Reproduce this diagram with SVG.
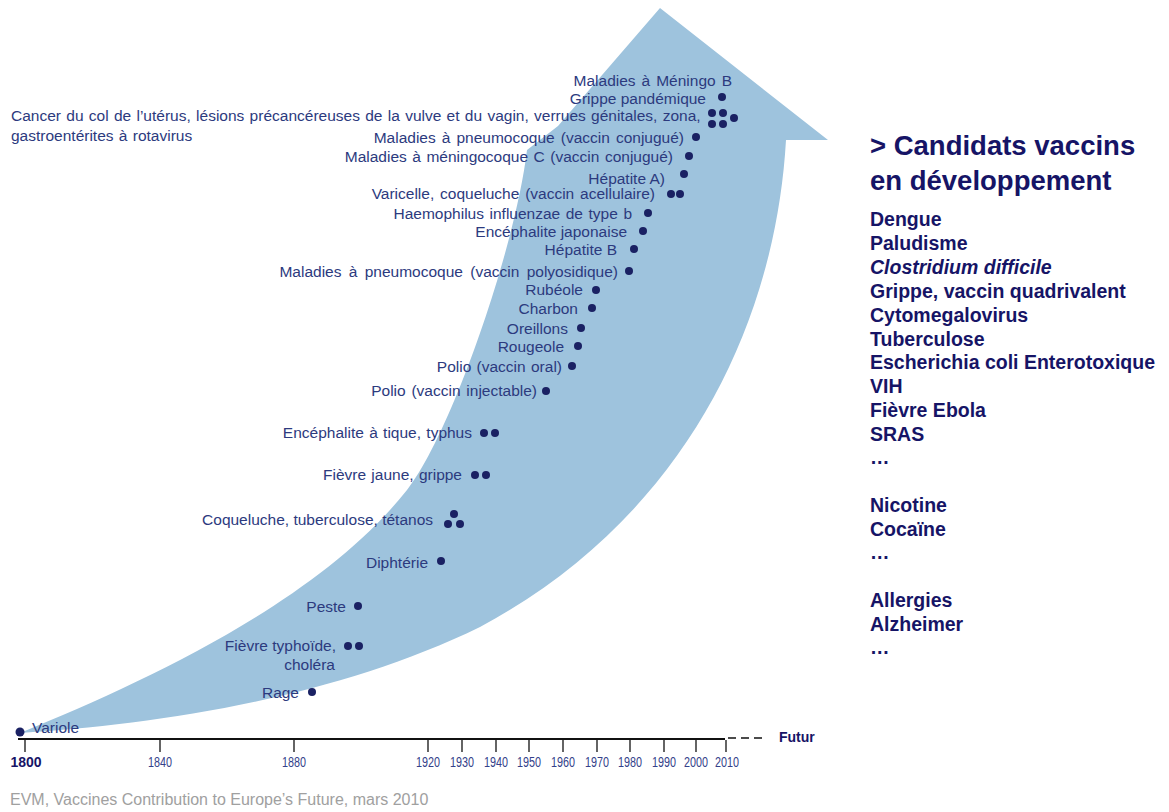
<svg xmlns="http://www.w3.org/2000/svg" width="1169" height="812" viewBox="0 0 1169 812">
  <style>
    .lbl { font-family: "Liberation Sans", Arial, sans-serif; font-size: 15.5px; fill: #2c3a7e; }
    .end { text-anchor: end; }
    .dot { fill: #1a2163; }
    .side { font-family: "Liberation Sans", Arial, sans-serif; font-weight: bold; fill: #161466; }
    .head { font-size: 27.5px; }
    .item { font-size: 19.5px; }
    .yr { font-family: "Liberation Sans Narrow", "Liberation Sans", Arial, sans-serif; font-size: 14px; fill: #34418a; text-anchor: middle; }
    .tick { stroke: #111; stroke-width: 1.3; }
  </style>

  <rect width="1169" height="812" fill="#ffffff"/>

  <!-- big curved arrow rising from 1800 to today -->
  <path id="arrow" fill="#9ec3dd"
        d="M 660 8 L 828 140 L 786 140
           C 775 330 680 520 480 627
           C 330 700 150 725 20 733
           C 150 680 320 600 407 490
           C 450 436 515 250 527 150
           L 558 126 Z"/>

  <!-- time axis -->
  <g id="axis">
    <line x1="18" y1="739" x2="725" y2="739" stroke="#111" stroke-width="2"/>
    <line x1="728" y1="738" x2="765" y2="738" stroke="#111" stroke-width="1.6" stroke-dasharray="8,5"/>
    <line class="tick" x1="25" y1="740" x2="25" y2="752"/>
    <line class="tick" x1="160" y1="740" x2="160" y2="752"/>
    <line class="tick" x1="294" y1="740" x2="294" y2="752"/>
    <line class="tick" x1="428" y1="740" x2="428" y2="752"/>
    <line class="tick" x1="462" y1="740" x2="462" y2="752"/>
    <line class="tick" x1="496" y1="740" x2="496" y2="752"/>
    <line class="tick" x1="529" y1="740" x2="529" y2="752"/>
    <line class="tick" x1="563" y1="740" x2="563" y2="752"/>
    <line class="tick" x1="597" y1="740" x2="597" y2="752"/>
    <line class="tick" x1="630" y1="740" x2="630" y2="752"/>
    <line class="tick" x1="664" y1="740" x2="664" y2="752"/>
    <line class="tick" x1="696" y1="740" x2="696" y2="752"/>
    <line class="tick" x1="726" y1="740" x2="726" y2="752"/>
    <text x="26" y="767" font-family="Liberation Sans, Arial, sans-serif" font-size="14" font-weight="bold" fill="#161466" text-anchor="middle">1800</text>
    <text class="yr" x="160" y="767" textLength="24" lengthAdjust="spacingAndGlyphs">1840</text>
    <text class="yr" x="294" y="767" textLength="24" lengthAdjust="spacingAndGlyphs">1880</text>
    <text class="yr" x="428" y="767" textLength="24" lengthAdjust="spacingAndGlyphs">1920</text>
    <text class="yr" x="462" y="767" textLength="24" lengthAdjust="spacingAndGlyphs">1930</text>
    <text class="yr" x="496" y="767" textLength="24" lengthAdjust="spacingAndGlyphs">1940</text>
    <text class="yr" x="529" y="767" textLength="24" lengthAdjust="spacingAndGlyphs">1950</text>
    <text class="yr" x="563" y="767" textLength="24" lengthAdjust="spacingAndGlyphs">1960</text>
    <text class="yr" x="597" y="767" textLength="24" lengthAdjust="spacingAndGlyphs">1970</text>
    <text class="yr" x="630" y="767" textLength="24" lengthAdjust="spacingAndGlyphs">1980</text>
    <text class="yr" x="664" y="767" textLength="24" lengthAdjust="spacingAndGlyphs">1990</text>
    <text class="yr" x="696" y="767" textLength="24" lengthAdjust="spacingAndGlyphs">2000</text>
    <text class="yr" x="727" y="767" textLength="24" lengthAdjust="spacingAndGlyphs">2010</text>
    <text x="779" y="742" font-family="Liberation Sans, Arial, sans-serif" font-size="14" font-weight="bold" fill="#161466">Futur</text>
  </g>

  <!-- no connectors: events are placed along the arrow -->
  <g id="connectors"/>

  <!-- vaccine milestones -->
  <g id="e-menb"><text class="lbl end" x="732" y="85.5" word-spacing="1.7">Maladies à Méningo B</text></g>
  <g id="e-grippe-pand"><text class="lbl end" x="706" y="103.5">Grippe pandémique</text><circle class="dot" cx="722" cy="97" r="4"/></g>
  <g id="e-hpv">
    <text class="lbl" x="11" y="120.5" word-spacing="1">Cancer du col de l’utérus, lésions précancéreuses de la vulve et du vagin, verrues génitales, zona,</text>
    <text class="lbl" x="11" y="140.5" word-spacing="1">gastroentérites à rotavirus</text>
    <circle class="dot" cx="712" cy="113" r="4"/><circle class="dot" cx="723" cy="113" r="4"/>
    <circle class="dot" cx="734" cy="118" r="4"/>
    <circle class="dot" cx="712" cy="124" r="4"/><circle class="dot" cx="723" cy="124" r="4"/>
  </g>
  <g id="e-pneumo-conj"><text class="lbl end" x="684" y="142.5" word-spacing="1.75">Maladies à pneumocoque (vaccin conjugué)</text><circle class="dot" cx="696" cy="137" r="4"/></g>
  <g id="e-menc"><text class="lbl end" x="673" y="161.5" word-spacing="1.2">Maladies à méningocoque C (vaccin conjugué)</text><circle class="dot" cx="689" cy="156" r="4"/></g>
  <g id="e-hepa"><text class="lbl end" x="665" y="183.5">Hépatite A)</text><circle class="dot" cx="684" cy="174" r="4"/></g>
  <g id="e-varicelle"><text class="lbl end" x="655" y="199" word-spacing="1.5">Varicelle, coqueluche (vaccin acellulaire)</text><circle class="dot" cx="671" cy="194" r="4"/><circle class="dot" cx="680" cy="194" r="4"/></g>
  <g id="e-hib"><text class="lbl end" x="632" y="218.5" word-spacing="1.25">Haemophilus influenzae de type b</text><circle class="dot" cx="648" cy="213" r="4"/></g>
  <g id="e-jap"><text class="lbl end" x="627" y="236.5">Encéphalite japonaise</text><circle class="dot" cx="643" cy="231" r="4"/></g>
  <g id="e-hepb"><text class="lbl end" x="617" y="254.5">Hépatite B</text><circle class="dot" cx="634" cy="249" r="4"/></g>
  <g id="e-pneumo-poly"><text class="lbl end" x="618" y="276.5" word-spacing="3">Maladies à pneumocoque (vaccin polyosidique)</text><circle class="dot" cx="629" cy="271" r="4"/></g>
  <g id="e-rubeole"><text class="lbl end" x="583" y="294.5">Rubéole</text><circle class="dot" cx="596" cy="290" r="4"/></g>
  <g id="e-charbon"><text class="lbl end" x="578" y="313.5">Charbon</text><circle class="dot" cx="592" cy="308" r="4"/></g>
  <g id="e-oreillons"><text class="lbl end" x="568" y="333.5">Oreillons</text><circle class="dot" cx="581" cy="328" r="4"/></g>
  <g id="e-rougeole"><text class="lbl end" x="564" y="351.5">Rougeole</text><circle class="dot" cx="578" cy="346" r="4"/></g>
  <g id="e-polio-oral"><text class="lbl end" x="562" y="371.5" word-spacing="1">Polio (vaccin oral)</text><circle class="dot" cx="572" cy="366" r="4"/></g>
  <g id="e-polio-inj"><text class="lbl end" x="537" y="395.5" word-spacing="1.5">Polio (vaccin injectable)</text><circle class="dot" cx="546" cy="391" r="4"/></g>
  <g id="e-tique"><text class="lbl end" x="472" y="437.5" word-spacing="1">Encéphalite à tique, typhus</text><circle class="dot" cx="484" cy="433" r="4"/><circle class="dot" cx="495" cy="433" r="4"/></g>
  <g id="e-fj"><text class="lbl end" x="462" y="479.5" word-spacing="1">Fièvre jaune, grippe</text><circle class="dot" cx="475" cy="475" r="4"/><circle class="dot" cx="486" cy="475" r="4"/></g>
  <g id="e-coq"><text class="lbl end" x="433" y="524.5">Coqueluche, tuberculose, tétanos</text><circle class="dot" cx="454" cy="514" r="4"/><circle class="dot" cx="448" cy="524" r="4"/><circle class="dot" cx="460" cy="524" r="4"/></g>
  <g id="e-diph"><text class="lbl end" x="428" y="567.5">Diphtérie</text><circle class="dot" cx="441" cy="561" r="4"/></g>
  <g id="e-peste"><text class="lbl end" x="346" y="611.5">Peste</text><circle class="dot" cx="358" cy="606" r="4"/></g>
  <g id="e-typh"><text class="lbl end" x="336" y="650.5">Fièvre typhoïde,</text><text class="lbl end" x="335" y="669.5">choléra</text><circle class="dot" cx="348" cy="646" r="4"/><circle class="dot" cx="359" cy="646" r="4"/></g>
  <g id="e-rage"><text class="lbl end" x="299" y="697.5">Rage</text><circle class="dot" cx="312" cy="692" r="4"/></g>
  <g id="e-variole"><circle class="dot" cx="20" cy="732" r="4.5"/><text class="lbl" x="32" y="732.5">Variole</text></g>

  <!-- candidates list -->
  <g id="candidats" class="side">
    <text class="head" x="870" y="155">&gt; Candidats vaccins</text>
    <text class="head" x="870" y="190">en développement</text>
    <text class="item" x="870" y="226">Dengue</text>
    <text class="item" x="870" y="250">Paludisme</text>
    <text class="item" x="870" y="274" font-style="italic">Clostridium difficile</text>
    <text class="item" x="870" y="298">Grippe, vaccin quadrivalent</text>
    <text class="item" x="870" y="322">Cytomegalovirus</text>
    <text class="item" x="870" y="346">Tuberculose</text>
    <text class="item" x="870" y="369">Escherichia coli Enterotoxique</text>
    <text class="item" x="870" y="393">VIH</text>
    <text class="item" x="870" y="417">Fièvre Ebola</text>
    <text class="item" x="870" y="441">SRAS</text>
    <text class="item" x="870" y="464">…</text>
    <text class="item" x="870" y="512">Nicotine</text>
    <text class="item" x="870" y="536">Cocaïne</text>
    <text class="item" x="870" y="559">…</text>
    <text class="item" x="870" y="607">Allergies</text>
    <text class="item" x="870" y="631">Alzheimer</text>
    <text class="item" x="870" y="654">…</text>
  </g>

  <text id="source" x="10" y="805" font-family="Liberation Sans, Arial, sans-serif" font-size="16" fill="#a0a0a0">EVM, Vaccines Contribution to Europe’s Future, mars 2010</text>
</svg>
